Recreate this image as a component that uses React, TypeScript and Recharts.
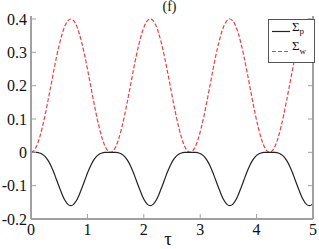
import React from 'react';
import { LineChart, Line, XAxis, YAxis, Legend } from 'recharts';

const tau = [
  0, 0.05, 0.101, 0.151, 0.201, 0.252, 0.302, 0.353, 0.403, 0.453, 0.504, 0.554, 0.604, 0.655, 0.705, 0.755, 0.806, 0.856, 0.906, 0.957, 1.007, 1.058, 1.108, 1.158, 1.209, 1.259, 1.309, 1.36,
  1.41, 1.46, 1.511, 1.561, 1.611, 1.662, 1.712, 1.763, 1.813, 1.863, 1.914, 1.964, 2.014, 2.065, 2.115, 2.165, 2.216, 2.266, 2.316, 2.367, 2.417, 2.468, 2.518, 2.568, 2.619, 2.669, 2.719, 2.77,
  2.82, 2.87, 2.921, 2.971, 3.021, 3.072, 3.122, 3.173, 3.223, 3.273, 3.324, 3.374, 3.424, 3.475, 3.525, 3.575, 3.626, 3.676, 3.726, 3.777, 3.827, 3.877, 3.928, 3.978, 4.029, 4.079, 4.129, 4.18,
  4.23, 4.28, 4.331, 4.381, 4.431, 4.482, 4.532, 4.583, 4.633, 4.683, 4.734, 4.784, 4.834, 4.885, 4.935, 4.985, 5.0,
];

const sigmaW = [
  0, 0.005, 0.0198, 0.0436, 0.0753, 0.1132, 0.1555, 0.2, 0.2445, 0.2868, 0.3247, 0.3564, 0.3802, 0.395, 0.4, 0.395, 0.3802, 0.3564, 0.3247, 0.2868, 0.2445, 0.2, 0.1555, 0.1132, 0.0753, 0.0436, 0.0198, 0.005,
  0, 0.005, 0.0198, 0.0436, 0.0753, 0.1132, 0.1555, 0.2, 0.2445, 0.2868, 0.3247, 0.3564, 0.3802, 0.395, 0.4, 0.395, 0.3802, 0.3564, 0.3247, 0.2868, 0.2445, 0.2, 0.1555, 0.1132, 0.0753, 0.0436, 0.0198, 0.005,
  0, 0.005, 0.0198, 0.0436, 0.0753, 0.1132, 0.1555, 0.2, 0.2445, 0.2868, 0.3247, 0.3564, 0.3802, 0.395, 0.4, 0.395, 0.3802, 0.3564, 0.3247, 0.2868, 0.2445, 0.2, 0.1555, 0.1132, 0.0753, 0.0436, 0.0198, 0.005,
  0, 0.005, 0.0198, 0.0436, 0.0753, 0.1132, 0.1555, 0.2, 0.2445, 0.2868, 0.3247, 0.3564, 0.3802, 0.395, 0.4, 0.395, 0.3917,
];

const sigmaP = [
  0, 0, -0.0004, -0.0019, -0.0057, -0.0128, -0.0242, -0.04, -0.0598, -0.0823, -0.1054, -0.127, -0.1446, -0.156, -0.16, -0.156, -0.1446, -0.127, -0.1054, -0.0823, -0.0598, -0.04, -0.0242, -0.0128, -0.0057, -0.0019, -0.0004, 0,
  0, 0, -0.0004, -0.0019, -0.0057, -0.0128, -0.0242, -0.04, -0.0598, -0.0823, -0.1054, -0.127, -0.1446, -0.156, -0.16, -0.156, -0.1446, -0.127, -0.1054, -0.0823, -0.0598, -0.04, -0.0242, -0.0128, -0.0057, -0.0019, -0.0004, 0,
  0, 0, -0.0004, -0.0019, -0.0057, -0.0128, -0.0242, -0.04, -0.0598, -0.0823, -0.1054, -0.127, -0.1446, -0.156, -0.16, -0.156, -0.1446, -0.127, -0.1054, -0.0823, -0.0598, -0.04, -0.0242, -0.0128, -0.0057, -0.0019, -0.0004, 0,
  0, 0, -0.0004, -0.0019, -0.0057, -0.0128, -0.0242, -0.04, -0.0598, -0.0823, -0.1054, -0.127, -0.1446, -0.156, -0.16, -0.156, -0.1534,
];

const xTicks = [0, 1, 2, 3, 4, 5];
const yTicks = [-0.2, -0.1, 0, 0.1, 0.2, 0.3, 0.4];
const seriesNames = ['Σp', 'Σw'];
const titleText = '(f)';
const xLabel = 'τ';

const data = tau.map((t, i) => ({ tau: t, p: sigmaP[i], w: sigmaW[i] }));

const AXIS = '#a0a0a0';
const FONT = 'Liberation Serif';
const RED = '#f23c3c';

const LegendBox = () => (
  <svg width={47} height={44} style={{ display: 'block', fontFamily: FONT }}>
    <rect x={0.5} y={0.5} width={46} height={43} fill="#fff" stroke="#555" strokeWidth={1} />
    <line x1={4} x2={22} y1={12.5} y2={12.5} stroke="#222" strokeWidth={1.2} />
    <text x={24} y={11.5} style={{ fontFamily: FONT, fontSize: 13 }} fill="#111">
      {seriesNames[0].charAt(0)}
      <tspan style={{ fontSize: 9 }} dy={3.5}>{seriesNames[0].slice(1)}</tspan>
    </text>
    <line x1={4} x2={22} y1={32.5} y2={32.5} stroke={RED} strokeWidth={1.2} strokeDasharray="4 2" />
    <text x={24} y={31} style={{ fontFamily: FONT, fontSize: 13 }} fill="#111">
      {seriesNames[1].charAt(0)}
      <tspan style={{ fontSize: 9 }} dy={3.5}>{seriesNames[1].slice(1)}</tspan>
    </text>
  </svg>
);

export default function App() {
  const tickStyle = { fontFamily: FONT, fontSize: 16, fill: '#111', style: { fontFamily: FONT, fontSize: 16 } };
  return (
    <div style={{ position: 'absolute', left: 0, top: 0, width: 319, height: 249, background: '#fff', fontFamily: FONT, fontSize: 16 }}>
      <LineChart width={319} height={249} data={data} margin={{ top: 16, right: 0, bottom: 0, left: 0 }} style={{ fontFamily: FONT, fontSize: 16 }}>
        <XAxis
          dataKey="tau"
          type="number"
          domain={[0, 5]}
          ticks={xTicks}
          allowDataOverflow
          height={30}
          tickSize={-5}
          tickMargin={10}
          stroke={AXIS}
          strokeWidth={2}
          tick={tickStyle}
          tickLine={{ stroke: AXIS, strokeWidth: 1 }}
          interval={0}
        />
        <XAxis
          xAxisId="top"
          orientation="top"
          dataKey="tau"
          type="number"
          domain={[0, 5]}
          ticks={xTicks}
          allowDataOverflow
          height={0}
          tickSize={-5}
          tickMargin={0}
          stroke={AXIS}
          strokeWidth={2}
          tickFormatter={() => ''}
          tickLine={{ stroke: AXIS, strokeWidth: 1 }}
          interval={0}
        />
        <YAxis
          type="number"
          domain={[-0.2, 0.409]}
          ticks={yTicks}
          allowDataOverflow
          width={31}
          tickSize={-5}
          tickMargin={9}
          stroke={AXIS}
          strokeWidth={2}
          tick={tickStyle}
          tickLine={{ stroke: AXIS, strokeWidth: 1 }}
          tickFormatter={(v: number) => String(v)}
          interval={0}
        />
        <YAxis
          yAxisId="right"
          orientation="right"
          type="number"
          domain={[-0.2, 0.409]}
          ticks={yTicks}
          allowDataOverflow
          width={6}
          tickSize={-5}
          tickMargin={0}
          stroke={AXIS}
          strokeWidth={2}
          tickFormatter={() => ''}
          tickLine={{ stroke: AXIS, strokeWidth: 1 }}
          interval={0}
        />
        <Legend
          layout="vertical"
          align="center"
          verticalAlign="middle"
          wrapperStyle={{ position: 'absolute', left: 268, top: 19, width: 47, height: 44 }}
          content={() => <LegendBox />}
        />
        <Line
          type="monotone"
          dataKey="w"
          name={seriesNames[1]}
          stroke={RED}
          strokeWidth={1.2}
          strokeDasharray="4 2"
          dot={false}
          isAnimationActive={false}
        />
        <Line
          type="monotone"
          dataKey="p"
          name={seriesNames[0]}
          stroke="#222"
          strokeWidth={1.2}
          dot={false}
          isAnimationActive={false}
        />
      </LineChart>
      <svg width={319} height={249} style={{ position: 'absolute', left: 0, top: 0, pointerEvents: 'none' }}>
        <text x={169.5} y={10.5} textAnchor="middle" style={{ fontFamily: FONT, fontSize: 14 }} fill="#111">{titleText}</text>
        <text x={168} y={245} textAnchor="middle" style={{ fontFamily: FONT, fontSize: 19 }} fill="#111">{xLabel}</text>
      </svg>
    </div>
  );
}
